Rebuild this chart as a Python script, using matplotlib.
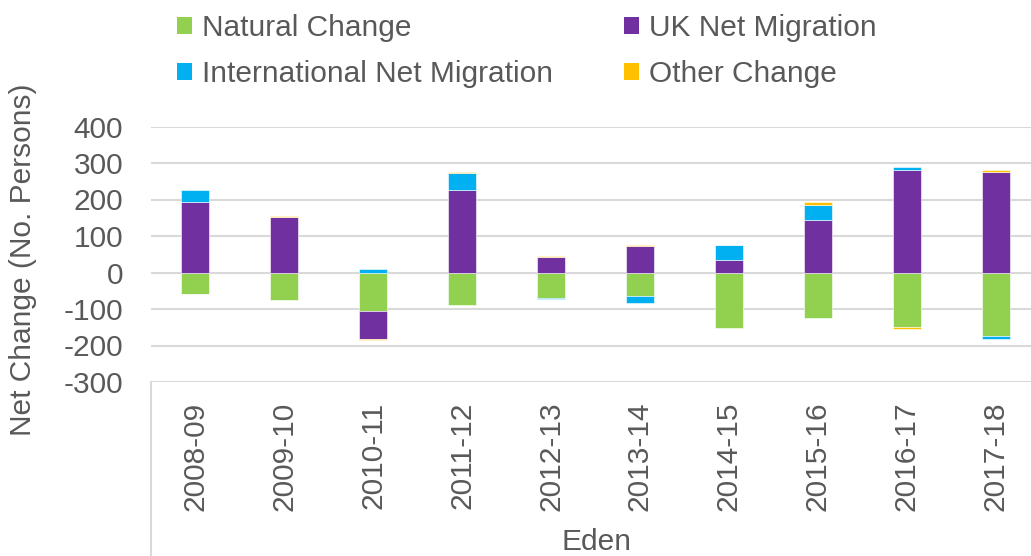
import matplotlib
matplotlib.use("Agg")

import numpy as np
import matplotlib.pyplot as plt
from matplotlib.patches import Patch
from matplotlib.lines import Line2D

years = ["2008-09", "2009-10", "2010-11", "2011-12", "2012-13",
         "2013-14", "2014-15", "2015-16", "2016-17", "2017-18"]
natural = [-58, -74, -105, -88, -70, -64, -151, -126, -148, -175]
uk_net = [192, 153, -78, 227, 42, 73, 35, 144, 280, 275]
intl_net = [35, 0, 9, 46, -3, -20, 39, 42, 9, -7]
other = [-2, 3, -2, 3, 3, 2, 2, 6, -6, 7]
group_label = "Eden"

series = [
    ("Natural Change", natural, "#92D050"),
    ("UK Net Migration", uk_net, "#7030A0"),
    ("International Net Migration", intl_net, "#00B0F0"),
    ("Other Change", other, "#FFC000"),
]

txt = "#595959"
fs = 21.5
plt.rcParams['font.family'] = ['Liberation Sans', 'DejaVu Sans']
plt.rcParams['axes.unicode_minus'] = False

fig = plt.figure(figsize=(10.31, 5.56), dpi=100)
ax = fig.add_axes([151 / 1031, 1 - 382 / 556, 889 / 1031, 255.5 / 556])

x = np.arange(len(years))
pos = np.zeros(len(years))
neg = np.zeros(len(years))
handles = {}
for name, vals, col in series:
    v = np.array(vals, dtype=float)
    bottom = np.where(v >= 0, pos, neg)
    ax.bar(x, v, bottom=bottom, width=0.315, color=col,
           edgecolor="white", linewidth=0.4, zorder=3)
    pos = np.where(v >= 0, pos + v, pos)
    neg = np.where(v < 0, neg + v, neg)
    handles[name] = Patch(facecolor=col, edgecolor="none", label=name)

ax.set_xlim(-0.5, len(years) - 0.5)
ax.set_ylim(-300, 400)
ax.set_yticks(range(-300, 401, 100))
ax.yaxis.grid(True, color="#D9D9D9", linewidth=1.5, zorder=0)
for s in ax.spines.values():
    s.set_visible(False)
ax.tick_params(axis="y", length=0, pad=20, labelsize=fs, labelcolor=txt)
ax.set_xticks(x)
ax.set_xticklabels(years, rotation=90)
ax.tick_params(axis="x", length=0, pad=14, labelsize=fs, labelcolor=txt)

# category box below the plot
ax.add_line(Line2D([0, 0], [0, -0.69], transform=ax.transAxes,
                   color="#D9D9D9", linewidth=1.5, clip_on=False))

fig.text(596 / 1031, 1 - 550 / 556, group_label, ha="center", va="baseline",
         fontsize=fs, color=txt)
fig.text(23 / 1031, 1 - 260 / 556, "Net Change (No. Persons)", rotation=90,
         ha="center", va="center", fontsize=fs, color=txt)

order = ["Natural Change", "International Net Migration",
         "UK Net Migration", "Other Change"]
leg = fig.legend([handles[n] for n in order], order, ncol=2, frameon=False,
                 loc="upper left", bbox_to_anchor=(177 / 1031, 1 - 14 / 556),
                 fontsize=fs, handlelength=0.5, handleheight=0.5,
                 handletextpad=0.33, columnspacing=2.4, labelspacing=0.6,
                 borderpad=0, borderaxespad=0)
for t in leg.get_texts():
    t.set_color(txt)

fig.savefig("out.png", dpi=100)
